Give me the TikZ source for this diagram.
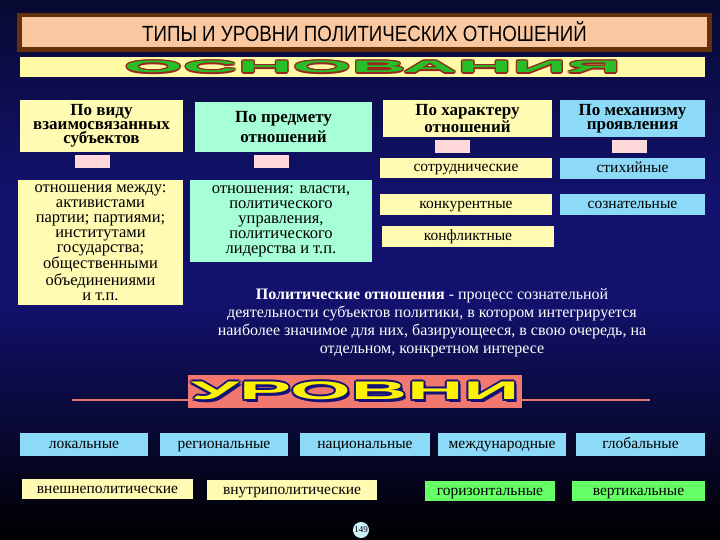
\documentclass[tikz,border=0pt]{standalone}
\usepackage{fontspec}
\setmainfont{Liberation Serif}
\newfontfamily\titlefont[FakeStretch=0.85]{Liberation Sans}
\newfontfamily\artfont{Liberation Sans}
\definecolor{bgtop}{RGB}{8,10,50}
\definecolor{bgmid}{RGB}{18,18,110}
\definecolor{brownc}{RGB}{100,50,10}
\definecolor{peach}{RGB}{250,200,160}
\definecolor{artred}{RGB}{150,40,30}
\definecolor{artgreen}{RGB}{40,190,40}
\definecolor{salmon}{RGB}{240,120,110}
\definecolor{salmonl}{RGB}{230,120,110}
\definecolor{artblue}{RGB}{20,20,120}
\begin{document}
\begin{tikzpicture}[x=1pt,y=-1pt,
  box/.style={draw=none,inner sep=0pt,align=center,font=\fontsize{16}{16}\selectfont},
  sm/.style={font=\fontsize{15.5}{15.5}\selectfont,text height=11pt,text depth=3pt},
  hd/.style={font=\bfseries\fontsize{17}{14}\selectfont},
  yel/.style={fill=yellow!30!white},
  grn/.style={fill=green!45!cyan!35!white},
  cya/.style={fill=cyan!45!white},
  lgr/.style={fill=green!60!white},
  ped/.style={fill=red!15!white,draw=none},
  osnart/.style={font=\artfont\bfseries\fontsize{23}{23}\selectfont,xscale=3.3,yscale=0.72},
  urvart/.style={font=\artfont\bfseries\fontsize{30}{30}\selectfont,xscale=2.6,yscale=0.85}]
\useasboundingbox (0,0) rectangle (720,540);
\shade[top color=bgtop,bottom color=bgmid] (0,0) rectangle (720,200);
\fill[bgmid] (0,199.5) rectangle (720,300.5);
\shade[top color=bgmid,bottom color=black] (0,300) rectangle (720,540);
% title
\fill[brownc] (17,13) rectangle (712,52);
\node[box,fill=peach,minimum width=685,minimum height=30,font=\titlefont\fontsize{22}{22}\selectfont] (title) at (364.5,32) {ТИПЫ И УРОВНИ ПОЛИТИЧЕСКИХ ОТНОШЕНИЙ};
\node[box,fill=yellow!35!white,minimum width=685,minimum height=20] (band) at (362.5,67) {};
\foreach \dx/\dy in {-1/-1,1/1,-1/1,1/-1,1.4/0,-1.4/0,0/1.4,0/-1.4}
  \node[text=artred,osnart] at (372.5+\dx,67+\dy) {ОСНОВАНИЯ};
\node[text=artgreen,osnart] (osn) at (372.5,67) {ОСНОВАНИЯ};
% headers
\node[box,yel,hd,minimum width=163,minimum height=52] (h1) at (101.5,126) {По виду\\взаимосвязанных\\субъектов};
\node[box,grn,hd,minimum width=177,minimum height=50] (h2) at (283.5,127) {По предмету\\[3pt]отношений};
\node[box,yel,hd,minimum width=169,minimum height=37] (h3) at (467.5,118.5) {По характеру\\отношений};
\node[box,cya,hd,minimum width=145,minimum height=37] (h4) at (632.5,118.5) {По механизму\\проявления};
\node[box,ped,minimum width=35,minimum height=13] (p1) at (92.5,161.5) {};
\node[box,ped,minimum width=35,minimum height=13] (p2) at (271.5,161.5) {};
\node[box,ped,minimum width=35,minimum height=13] (p3) at (452.5,146.5) {};
\node[box,ped,minimum width=35,minimum height=13] (p4) at (629.5,146.5) {};
% second row
\node[box,yel,minimum width=165,minimum height=125,font=\fontsize{16.5}{15}\selectfont] (b1) at (100.5,242.5) {отношения между:\\активистами\\партии; партиями;\\институтами\\государства;\\общественными\\объединениями\\и т.п.};
\node[box,grn,minimum width=182,minimum height=82,font=\fontsize{16.5}{15}\selectfont] (b2) at (281,221) {отношения: власти,\\политического\\управления,\\политического\\лидерства и т.п.};
\node[box,yel,sm,minimum width=172,minimum height=20] (c1) at (466,168) {сотруднические};
\node[box,cya,sm,minimum width=145,minimum height=21] (m1) at (632.5,169) {стихийные};
\node[box,yel,sm,minimum width=172,minimum height=21] (c2) at (466,204.5) {конкурентные};
\node[box,cya,sm,minimum width=145,minimum height=21] (m2) at (632.5,204.5) {сознательные};
\node[box,yel,sm,minimum width=172,minimum height=21] (c3) at (468,236.5) {конфликтные};
% definition
\node[box,text=white,font=\fontsize{16}{18}\selectfont] (def) at (432,323) {\textbf{Политические отношения} - процесс сознательной\\деятельности субъектов политики, в котором интегрируется\\наиболее значимое для них, базирующееся, в свою очередь, на\\отдельном, конкретном интересе};
% levels banner
\draw[line width=2pt,salmonl] (72,400) -- (650,400);
\node[box,minimum width=334,minimum height=33,fill=salmon] (lvl) at (355,391.5) {};
\foreach \dx/\dy in {-1.5/-1.5,1.5/1.5,-1.5/1.5,1.5/-1.5,2/0,-2/0,0/2,0/-2,2.5/2.5}
  \node[text=artblue,urvart] at (355+\dx,391+\dy) {УРОВНИ};
\node[text=yellow,urvart] (urv) at (355,391) {УРОВНИ};
% level boxes
\node[box,cya,sm,minimum width=128,minimum height=23] (l1) at (84,444.5) {локальные};
\node[box,cya,sm,minimum width=128,minimum height=23] (l2) at (224,444.5) {региональные};
\node[box,cya,sm,minimum width=130,minimum height=23] (l3) at (365,444.5) {национальные};
\node[box,cya,sm,minimum width=128,minimum height=23] (l4) at (502,444.5) {международные};
\node[box,cya,sm,minimum width=129,minimum height=23] (l5) at (640.5,444.5) {глобальные};
\node[box,yel,sm,minimum width=171,minimum height=20] (v1) at (107.5,489) {внешнеполитические};
\node[box,yel,sm,minimum width=170,minimum height=20] (v2) at (292,490) {внутриполитические};
\node[box,lgr,sm,minimum width=130,minimum height=20] (g1) at (490,491) {горизонтальные};
\node[box,lgr,sm,minimum width=133,minimum height=20] (g2) at (638.5,491) {вертикальные};
\node[circle,fill=cyan!20!white,inner sep=0.5pt,font=\fontsize{9}{9}\selectfont] (pg) at (361,530) {149};
\end{tikzpicture}
\end{document}
